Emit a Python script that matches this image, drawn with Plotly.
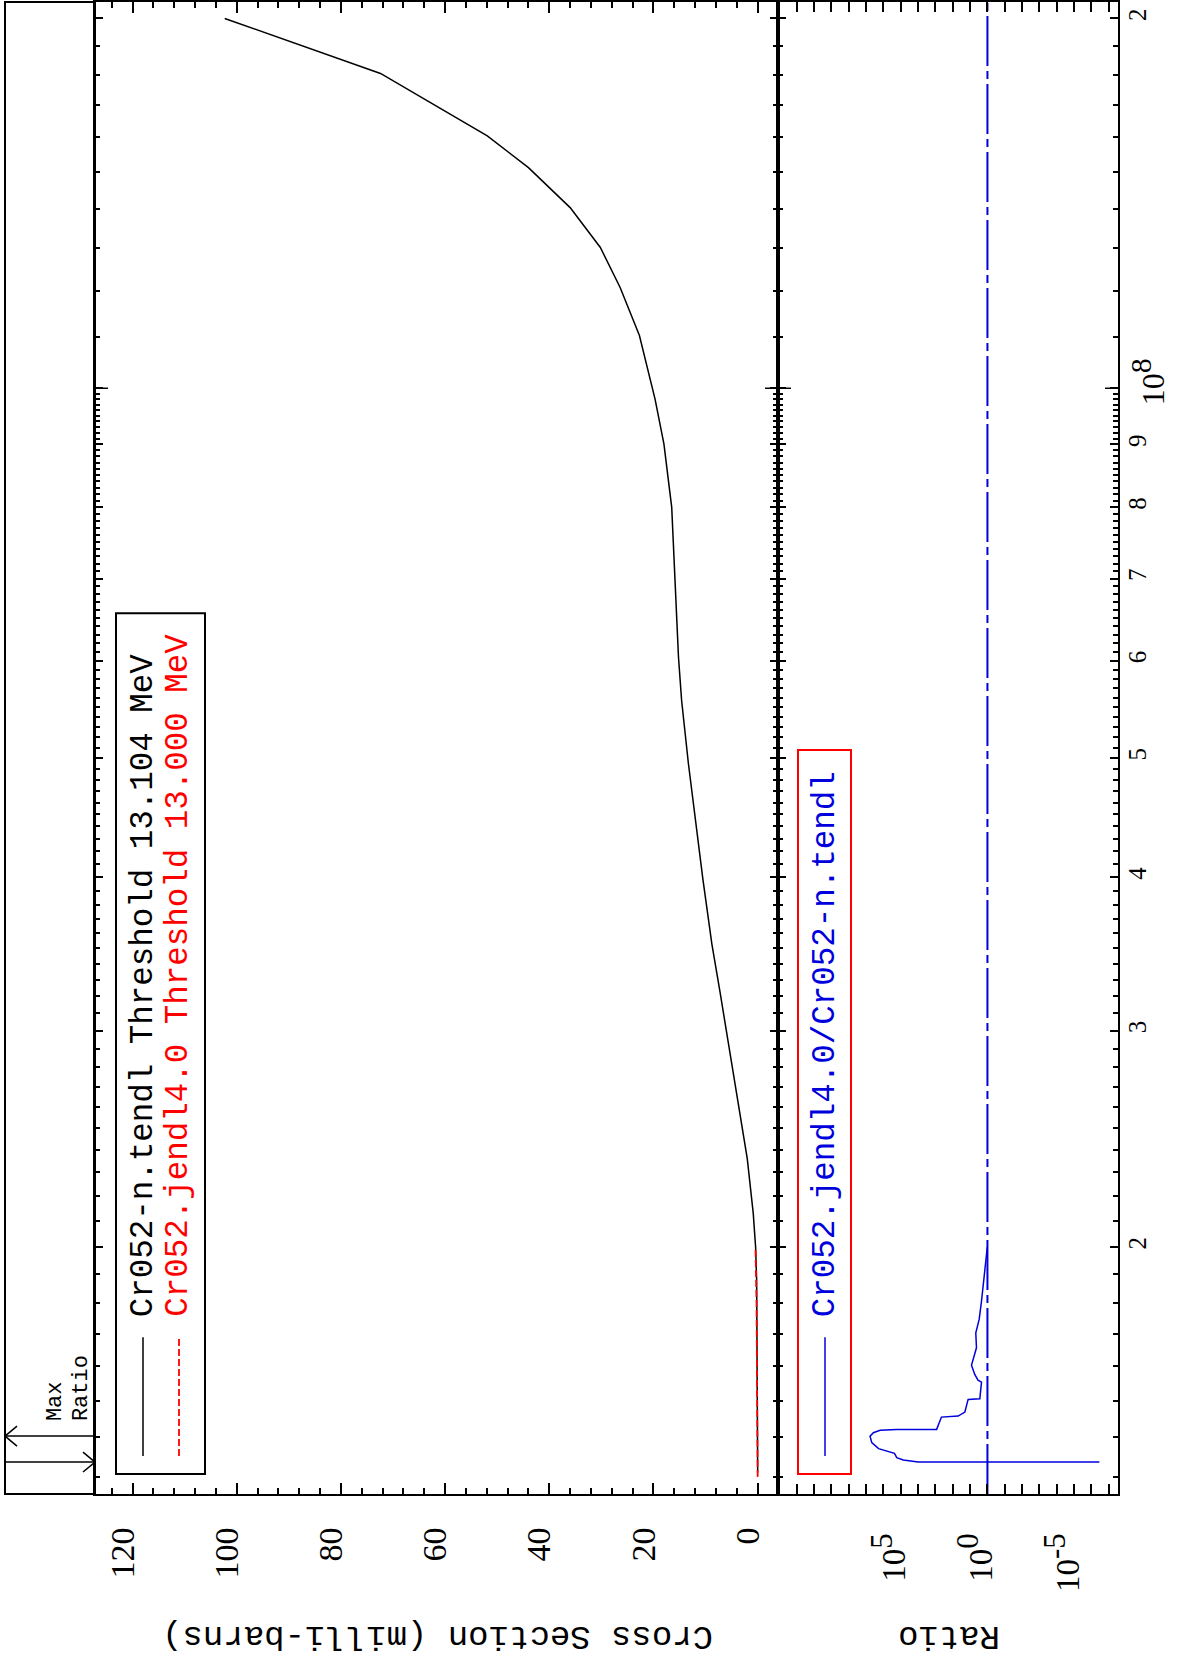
import math
import plotly.graph_objects as go

# Cr052 cross section (milli-barns) vs incident energy (eV)
energy_tendl = [1.3104e7, 1.40e7, 1.60e7, 1.88e7, 2.00e7, 2.13e7, 2.36e7, 2.57e7, 2.88e7,
                3.22e7, 3.53e7, 3.98e7, 4.95e7, 5.57e7, 6.04e7, 6.98e7, 8.00e7, 9.01e7,
                9.80e7, 1.104e8, 1.208e8, 1.302e8, 1.403e8, 1.512e8, 1.605e8, 1.804e8, 2.00e8]
xs_tendl = [0.0, 0.05, 0.10, 0.20, 0.40, 0.85, 2.0, 3.4, 5.3,
            7.2, 8.8, 10.5, 13.3, 14.6, 15.2, 15.85, 16.5, 18.0,
            19.7, 22.7, 26.4, 30.2, 36.0, 44.0, 51.9, 72.4, 102.3]

energy_jendl = [1.30e7, 1.40e7, 1.60e7, 1.80e7, 2.00e7]
xs_jendl = [0.0, 0.04, 0.12, 0.22, 0.42]

# ratio jendl4.0 / tendl
energy_ratio = [1.3366e7, 1.3366e7, 1.3418e7, 1.3477e7, 1.3586e7, 1.3646e7, 1.3706e7,
                1.3862e7, 1.4032e7, 1.4122e7, 1.4184e7, 1.4210e7, 1.4210e7, 1.4541e7,
                1.4568e7, 1.4679e7, 1.5031e7, 1.5052e7, 1.5527e7, 1.5584e7, 1.5750e7,
                1.6028e7, 1.6406e7, 1.6558e7, 1.7030e7, 1.7462e7, 1.8068e7, 1.8938e7,
                1.9657e7, 2.0e7]
ratio = [3.5e-7, 1.0e4, 7.1e4, 1.7e5, 2.3e5, 6.5e5, 1.9e6,
         4.7e6, 5.9e6, 3.8e6, 1.55e6, 1.7e5, 850, 450,
         49, 20, 13, 2.75, 2.2, 3.5, 5.4,
         8.3, 5.4, 4.3, 4.7, 3.0, 2.2, 1.6,
         1.26, 1.02]

# unity reference line across the energy window
unity_ratio = [1, 1]
unity_energy = [10 ** 7.1, 10 ** 8.3144]

xs_ticks = [0, 20, 40, 60, 80, 100, 120]
ratio_ticks = [1e-5, 1, 1e5]
ratio_labels = ['10<sup><span style="font-size:31px">-5</span></sup>',
                '10<sup><span style="font-size:31px">0</span></sup>',
                '10<sup><span style="font-size:31px">5</span></sup>']
energy_ticks = [2e7, 3e7, 4e7, 5e7, 6e7, 7e7, 8e7, 9e7, 1e8, 2e8]
energy_labels = ['2', '3', '4', '5', '6', '7', '8', '9', '', '2']
decade_label = '10<sup><span style="font-size:30px">8</span></sup>'

label_tendl = 'Cr052-n.tendl Threshold 13.104 MeV'
label_jendl = 'Cr052.jendl4.0 Threshold 13.000 MeV'
label_ratio = 'Cr052.jendl4.0/Cr052-n.tendl'

# page geometry (pixels)
W, H = 1182, 1661
L, R, T, B = 95, 64, 0, 167
PW = W - L - R
PH = H - T - B
SPLIT = (778 - L) / PW
E_RANGE = [7.1, 8.3144]

BLUE = '#0000dd'
MONO = 'Liberation Mono'
SERIF = 'Liberation Serif'


def px(x):
    return (x - L) / PW


def py(y):
    return 1 - (y - T) / PH


def ey(e):
    return (math.log10(e) - E_RANGE[0]) / (E_RANGE[1] - E_RANGE[0])


energy_minor = ([k * 1e6 for k in range(13, 100) if k % 10] +
                [k * 1e7 for k in range(11, 20)])

fig = go.Figure()

fig.add_trace(go.Scatter(x=xs_tendl, y=energy_tendl, mode='lines', xaxis='x', yaxis='y',
                         line=dict(color='black', width=1.5)))
fig.add_trace(go.Scatter(x=xs_jendl, y=energy_jendl, mode='lines', xaxis='x', yaxis='y',
                         line=dict(color='red', width=1.8, dash='7px,3px')))
fig.add_trace(go.Scatter(x=unity_ratio, y=unity_energy, mode='lines', xaxis='x2', yaxis='y2',
                         line=dict(color=BLUE, width=2, dash='50px,5px,8px,5px')))
fig.add_trace(go.Scatter(x=ratio, y=energy_ratio, mode='lines', xaxis='x2', yaxis='y2',
                         line=dict(color=BLUE, width=1.5)))

axis_common = dict(showline=True, linewidth=2, linecolor='black', mirror='ticks',
                   showgrid=False, zeroline=False, tickcolor='black', tickwidth=1.5)

shapes = []


def seg(x0, y0, x1, y1, color='black', width=1.5, dash=None):
    d = dict(type='line', xref='paper', yref='paper', x0=x0, y0=y0, x1=x1, y1=y1,
             line=dict(color=color, width=width))
    if dash:
        d['line']['dash'] = dash
    shapes.append(d)


# side box for the max-ratio marker
shapes.append(dict(type='rect', xref='paper', yref='paper', x0=px(5), x1=0, y0=0, y1=1,
                   line=dict(color='black', width=2)))

# max ratio arrows
i_max = ratio.index(max(ratio))
ya = ey(energy_ratio[i_max])
seg(px(5), ya, 0, ya)
seg(px(5), ya, px(17), ya + 10 / PH)
seg(px(5), ya, px(17), ya - 10 / PH)
yb = ey(energy_ratio[0])
seg(px(5), yb, 0, yb)
seg(0, yb, px(83), yb + 10 / PH)
seg(0, yb, px(83), yb - 10 / PH)

# longer tick at 10^8 on the panel edges
e8 = ey(1e8)
seg(0, e8, px(108), e8, width=1.5)
seg(SPLIT, e8, px(765), e8, width=1.5)
seg(SPLIT, e8, px(791), e8, width=1.5)
seg(1, e8, px(1105), e8, width=1.5)

# legend boxes
shapes.append(dict(type='rect', xref='paper', yref='paper', x0=px(116), x1=px(205),
                   y0=py(1474), y1=py(612), line=dict(color='black', width=2)))
shapes.append(dict(type='rect', xref='paper', yref='paper', x0=px(798), x1=px(851),
                   y0=py(1474), y1=py(749), line=dict(color='red', width=2)))
seg(px(143), py(1456), px(143), py(1337), 'black', 1.5)
seg(px(179), py(1456), px(179), py(1337), 'red', 1.8, '7px,3px')
seg(px(825), py(1456), px(825), py(1337), BLUE, 1.5)

annotations = []


def text(s, x, y, size, color='black', angle=-90, xanchor='center', yanchor='bottom', family=MONO):
    annotations.append(dict(text=s, x=x, y=y, xref='paper', yref='paper', showarrow=False,
                            textangle=angle, xanchor=xanchor, yanchor=yanchor,
                            font=dict(family=family, size=size, color=color), borderpad=0))


text(label_tendl, px(143), py(1318), 32.5, 'black')
text(label_jendl, px(179), py(1318), 32.5, 'red')
text(label_ratio, px(825), py(1318), 32.5, BLUE)
text('Max', px(55), py(1422), 22)
text('Ratio', px(81), py(1422), 22)
text('Cross Section (milli-barns)', px(438), py(1636), 34, angle=180, yanchor='middle')
text('Ratio', px(949), py(1636), 34, angle=180, yanchor='middle')
text(decade_label, px(1147), e8 + 6 / PH, 32, yanchor='middle', family=SERIF)

fig.update_layout(
    width=W, height=H, autosize=False,
    margin=dict(l=L, r=R, t=T, b=B),
    paper_bgcolor='white', plot_bgcolor='white',
    showlegend=False,
    xaxis=dict(domain=[0, SPLIT], anchor='y', range=[127.2, -3.9],
               tickvals=xs_ticks, ticks='inside', ticklen=11,
               minor=dict(dtick=4, tick0=0, ticks='inside', ticklen=6,
                          tickcolor='black', tickwidth=1.5),
               tickangle=-90, tickfont=dict(family=SERIF, size=34, color='black'),
               ticklabelstandoff=18, ticklabelshift=10, **axis_common),
    xaxis2=dict(domain=[SPLIT, 1], anchor='y2', type='log', range=[12.08, -7.53],
                tickvals=ratio_ticks, ticktext=ratio_labels, ticks='inside', ticklen=10,
                minor=dict(tickvals=[10.0 ** k for k in range(-7, 12)], ticks='inside',
                           ticklen=10, tickcolor='black', tickwidth=1.5),
                tickangle=-90, tickfont=dict(family=SERIF, size=33, color='black'),
                ticklabelstandoff=24, ticklabelshift=6, **axis_common),
    yaxis=dict(anchor='x', type='log', range=E_RANGE, tickvals=energy_ticks,
               ticks='inside', ticklen=8, showticklabels=False,
               minor=dict(tickvals=energy_minor, ticks='inside', ticklen=5,
                          tickcolor='black', tickwidth=1.5),
               **axis_common),
    yaxis2=dict(anchor='x2', matches='y', type='log', range=E_RANGE, side='right',
                tickvals=energy_ticks, ticktext=energy_labels, ticks='inside', ticklen=8,
                minor=dict(tickvals=energy_minor, ticks='inside', ticklen=5,
                           tickcolor='black', tickwidth=1.5),
                tickangle=-90, tickfont=dict(family=SERIF, size=25, color='black'),
                ticklabelstandoff=-4, **axis_common),
    shapes=shapes,
    annotations=annotations,
)

fig.write_html("out.html", config={'displayModeBar': False},
               post_script="document.body.style.margin = '0';")
